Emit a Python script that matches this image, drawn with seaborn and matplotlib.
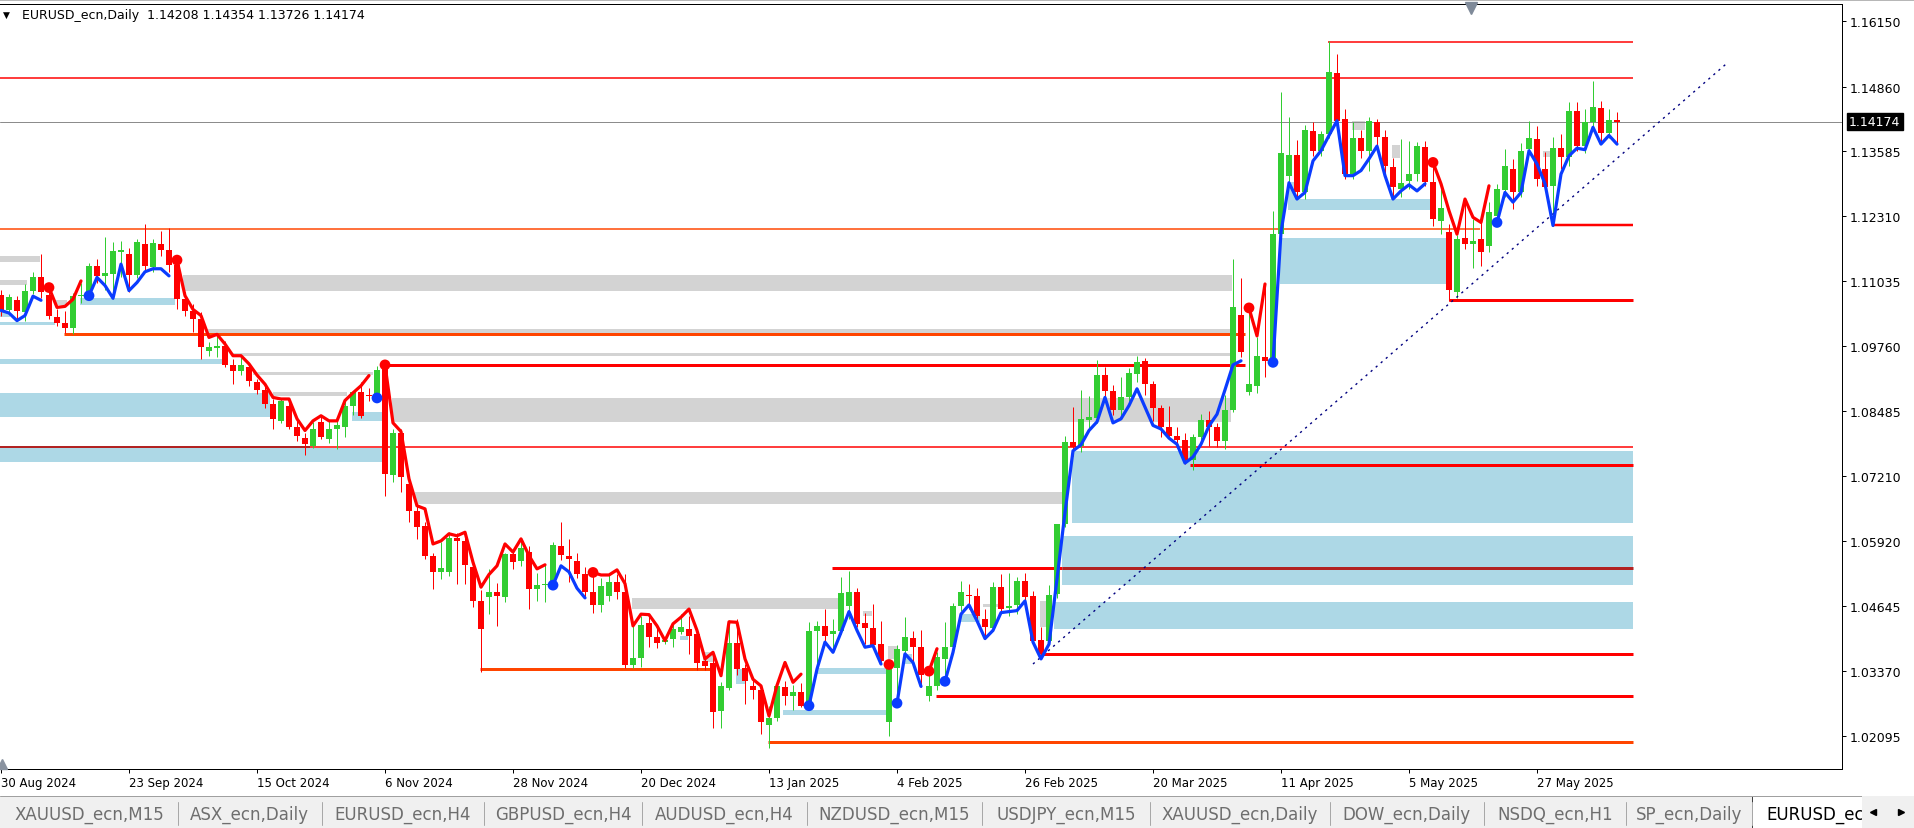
import numpy as np
import pandas as pd
import matplotlib
matplotlib.use("Agg")
import matplotlib.pyplot as plt
from matplotlib.patches import Rectangle
from matplotlib.lines import Line2D
import seaborn as sns

# ---------------- data ----------------
title_text = "EURUSD_ecn,Daily  1.14208 1.14354 1.13726 1.14174"

opens = [
1.1077,1.1046,1.1066,1.1043,1.1085,1.1112,1.1077,1.1033,1.1021,1.1011,
1.1074,1.1076,1.1133,1.1114,1.1117,1.1161,1.1157,1.1115,1.1177,1.1132,
1.1177,1.1165,1.1135,1.1068,1.1045,1.1030,1.0967,1.0972,1.0976,1.0938,
1.0926,1.0934,1.0906,1.0890,1.0862,1.0829,1.0858,1.0817,1.0795,1.0780,
1.0827,1.0793,1.0813,1.0817,1.0858,1.0886,1.0880,1.0878,1.0930,1.0723,
1.0805,1.0705,1.0652,1.0622,1.0563,1.0531,1.0531,1.0598,1.0593,1.0542,
1.0475,1.0483,1.0493,1.0483,1.0567,1.0553,1.0571,1.0498,1.0506,1.0506,
1.0582,1.0563,1.0554,1.0528,1.0493,1.0467,1.0485,1.0512,1.0493,1.0350,
1.0363,1.0432,1.0405,1.0394,1.0401,1.0414,1.0420,1.0410,1.0357,1.0353,
1.0258,1.0303,1.0392,1.0343,1.0308,1.0300,1.0231,1.0245,1.0306,1.0288,
1.0296,1.0269,1.0415,1.0426,1.0409,1.0416,1.0465,1.0493,1.0432,1.0422,
1.0391,1.0237,1.0343,1.0377,1.0402,1.0384,1.0289,1.0308,1.0361,1.0384,
1.0465,1.0487,1.0485,1.0440,1.0422,1.0503,1.0461,1.0467,1.0514,1.0485,
1.0398,1.0396,1.0488,1.0626,1.0788,1.0780,1.0830,1.0834,1.0919,1.0888,
1.0850,1.0876,1.0921,1.0947,1.0901,1.0854,1.0816,1.0800,1.0791,1.0753,
1.0798,1.0830,1.0817,1.0790,1.0851,1.1037,1.0886,1.0898,1.0955,1.0947,
1.1196,1.1311,1.1352,1.1279,1.1399,1.1360,1.1393,1.1513,1.1422,1.1314,
1.1385,1.1360,1.1416,1.1387,1.1328,1.1285,1.1300,1.1314,1.1367,1.1298,
1.1222,1.1200,1.1083,1.1189,1.1177,1.1187,1.1173,1.1232,1.1283,1.1325,
1.1279,1.1364,1.1384,1.1325,1.1291,1.1366,1.1348,1.1438,1.1369,1.1416,
1.1444,1.1395,1.14208]

highs = [
1.1087,1.1078,1.1075,1.1098,1.1122,1.1157,1.1091,1.1048,1.1045,1.1080,
1.1100,1.1140,1.1147,1.1190,1.1181,1.1183,1.1168,1.1187,1.1216,1.1186,
1.1202,1.1209,1.1145,1.1083,1.1058,1.1042,1.0984,1.0997,1.0985,1.0950,
1.0955,1.0940,1.0912,1.0897,1.0872,1.0872,1.0866,1.0830,1.0805,1.0827,
1.0839,1.0830,1.0832,1.0870,1.0888,1.0905,1.0893,1.0937,1.0939,1.0812,
1.0812,1.0722,1.0665,1.0630,1.0569,1.0591,1.0610,1.0609,1.0606,1.0552,
1.0497,1.0538,1.0510,1.0570,1.0573,1.0597,1.0583,1.0530,1.0545,1.0590,
1.0630,1.0597,1.0569,1.0541,1.0531,1.0520,1.0526,1.0528,1.0527,1.0426,
1.0446,1.0445,1.0425,1.0405,1.0430,1.0450,1.0446,1.0420,1.0362,1.0366,
1.0315,1.0437,1.0439,1.0351,1.0325,1.0310,1.0269,1.0313,1.0318,1.0310,
1.0313,1.0434,1.0436,1.0459,1.0439,1.0522,1.0534,1.0500,1.0451,1.0468,
1.0435,1.0350,1.0389,1.0443,1.0415,1.0417,1.0338,1.0375,1.0433,1.0470,
1.0515,1.0508,1.0500,1.0460,1.0513,1.0528,1.0530,1.0522,1.0530,1.0495,
1.0424,1.0506,1.0627,1.0800,1.0856,1.0890,1.0877,1.0949,1.0934,1.0899,
1.0916,1.0932,1.0956,1.0953,1.0907,1.0860,1.0858,1.0817,1.0805,1.0804,
1.0843,1.0848,1.0824,1.0880,1.1147,1.1110,1.1051,1.0993,1.1098,1.1242,
1.1475,1.1426,1.1381,1.1410,1.1416,1.1399,1.1575,1.1550,1.1442,1.1416,
1.1400,1.1426,1.1422,1.1401,1.1345,1.1383,1.1380,1.1378,1.1380,1.1337,
1.1285,1.1215,1.1195,1.1265,1.1226,1.1219,1.1260,1.1295,1.1363,1.1344,
1.1375,1.1419,1.1409,1.1357,1.1386,1.1393,1.1455,1.1455,1.1442,1.1498,
1.1458,1.1442,1.14354]

lows = [
1.1036,1.1040,1.1029,1.1026,1.1078,1.1070,1.1030,1.1015,1.1001,1.1000,
1.1060,1.1072,1.1100,1.1087,1.1069,1.1112,1.1083,1.1110,1.1125,1.1122,
1.1153,1.1121,1.1048,1.1035,1.1004,1.0951,1.0956,1.0955,1.0935,1.0901,
1.0920,1.0897,1.0882,1.0855,1.0812,1.0825,1.0812,1.0790,1.0761,1.0775,
1.0794,1.0785,1.0773,1.0797,1.0840,1.0834,1.0868,1.0874,1.0682,1.0708,
1.0689,1.0630,1.0597,1.0557,1.0498,1.0518,1.0524,1.0508,1.0508,1.0463,
1.0335,1.0449,1.0426,1.0473,1.0537,1.0544,1.0459,1.0474,1.0473,1.0505,
1.0555,1.0512,1.0520,1.0483,1.0452,1.0454,1.0475,1.0479,1.0343,1.0344,
1.0345,1.0384,1.0382,1.0390,1.0385,1.0410,1.0370,1.0340,1.0340,1.0225,
1.0226,1.0300,1.0330,1.0272,1.0282,1.0213,1.0186,1.0238,1.0270,1.0261,
1.0266,1.0265,1.0335,1.0394,1.0380,1.0410,1.0440,1.0423,1.0390,1.0380,
1.0355,1.0210,1.0276,1.0360,1.0350,1.0305,1.0279,1.0300,1.0317,1.0370,
1.0455,1.0460,1.0435,1.0401,1.0415,1.0455,1.0445,1.0450,1.0470,1.0390,
1.0363,1.0390,1.0480,1.0620,1.0760,1.0768,1.0810,1.0825,1.0866,1.0840,
1.0834,1.0860,1.0905,1.0880,1.0828,1.0797,1.0796,1.0776,1.0745,1.0733,
1.0783,1.0779,1.0777,1.0774,1.0846,1.0955,1.0879,1.0883,1.0915,1.0944,
1.1190,1.1299,1.1265,1.1265,1.1350,1.1350,1.1385,1.1410,1.1305,1.1305,
1.1345,1.1320,1.1370,1.1310,1.1265,1.1270,1.1285,1.1300,1.1290,1.1213,
1.1196,1.1065,1.1070,1.1167,1.1130,1.1134,1.1160,1.1219,1.1270,1.1245,
1.1270,1.1355,1.1290,1.1280,1.1213,1.1324,1.1330,1.1360,1.1355,1.1400,
1.1375,1.1385,1.13726]

closes = [
1.1047,1.1072,1.1044,1.1085,1.1112,1.1083,1.1035,1.1021,1.1011,1.1074,
1.1076,1.1133,1.1114,1.1120,1.1163,1.1164,1.1115,1.1180,1.1134,1.1179,
1.1165,1.1135,1.1068,1.1045,1.1030,1.0975,1.0975,1.0977,1.0939,1.0926,
1.0938,1.0907,1.0889,1.0862,1.0832,1.0868,1.0817,1.0799,1.0783,1.0812,
1.0798,1.0813,1.0820,1.0858,1.0886,1.0839,1.0877,1.0929,1.0725,1.0805,
1.0718,1.0652,1.0620,1.0563,1.0531,1.0540,1.0599,1.0593,1.0545,1.0475,
1.0420,1.0493,1.0485,1.0567,1.0552,1.0580,1.0498,1.0506,1.0508,1.0585,
1.0565,1.0558,1.0528,1.0493,1.0467,1.0504,1.0512,1.0493,1.0350,1.0362,
1.0428,1.0405,1.0392,1.0398,1.0420,1.0424,1.0406,1.0353,1.0348,1.0257,
1.0308,1.0392,1.0342,1.0317,1.0300,1.0237,1.0245,1.0308,1.0288,1.0296,
1.0269,1.0416,1.0426,1.0407,1.0415,1.0491,1.0493,1.0430,1.0422,1.0389,
1.0357,1.0342,1.0381,1.0404,1.0384,1.0329,1.0308,1.0364,1.0384,1.0465,
1.0493,1.0484,1.0446,1.0424,1.0503,1.0460,1.0465,1.0514,1.0483,1.0396,
1.0371,1.0486,1.0626,1.0788,1.0778,1.0833,1.0836,1.0919,1.0888,1.0850,
1.0876,1.0923,1.0945,1.0902,1.0854,1.0816,1.0800,1.0791,1.0753,1.0798,
1.0830,1.0817,1.0790,1.0851,1.1052,1.0964,1.0902,1.0956,1.0947,1.1196,
1.1356,1.1352,1.1279,1.1401,1.1360,1.1393,1.1515,1.1418,1.1314,1.1385,
1.1360,1.1418,1.1387,1.1330,1.1289,1.1297,1.1314,1.1369,1.1298,1.1226,
1.1247,1.1086,1.1187,1.1177,1.1183,1.1160,1.1240,1.1285,1.1330,1.1279,
1.1360,1.1385,1.1305,1.1289,1.1366,1.1348,1.1438,1.1369,1.1416,1.1446,
1.1395,1.1420,1.14174]

# trend indicator line (one value per bar) and the bars where it switches colour
trend_values = [
1.1046,1.1041,1.1026,1.1036,1.1074,1.1066,1.1091,1.1052,1.1054,1.1068,
1.1104,1.1075,1.1111,1.1095,1.1070,1.1137,1.1085,1.1101,1.1122,1.1128,
1.1128,1.1114,1.1145,1.1075,1.1048,1.1036,1.0993,1.0999,1.0980,1.0957,
1.0957,1.0941,1.0919,1.0901,1.0875,1.0872,1.0872,1.0833,1.0810,1.0829,
1.0839,1.0829,1.0829,1.0869,1.0884,1.0898,1.0918,1.0874,1.0939,1.0825,
1.0808,1.0715,1.0662,1.0656,1.0587,1.0593,1.0607,1.0603,1.0610,1.0551,
1.0502,1.0527,1.0544,1.0587,1.0571,1.0597,1.0564,1.0538,1.0546,1.0506,
1.0544,1.0532,1.0500,1.0481,1.0531,1.0526,1.0526,1.0536,1.0509,1.0426,
1.0449,1.0448,1.0426,1.0397,1.0430,1.0443,1.0459,1.0417,1.0361,1.0374,
1.0328,1.0434,1.0433,1.0361,1.0321,1.0308,1.0249,1.0309,1.0354,1.0315,
1.0331,1.0269,1.0341,1.0394,1.0374,1.0413,1.0454,1.0417,1.0384,1.0387,
1.0351,1.0350,1.0274,1.0371,1.0354,1.0307,1.0337,1.0381,1.0317,1.0374,
1.0449,1.0467,1.0436,1.0401,1.0417,1.0452,1.0454,1.0456,1.0475,1.0394,
1.0361,1.0390,1.0518,1.0649,1.0770,1.0782,1.0810,1.0827,1.0875,1.0825,
1.0833,1.0859,1.0892,1.0856,1.0820,1.0813,1.0795,1.0783,1.0746,1.0758,
1.0783,1.0819,1.0842,1.0890,1.0939,1.0947,1.1051,1.0996,1.1098,1.0944,
1.1200,1.1297,1.1265,1.1278,1.1340,1.1360,1.1390,1.1419,1.1311,1.1311,
1.1321,1.1344,1.1369,1.1311,1.1265,1.1281,1.1293,1.1281,1.1295,1.1337,
1.1295,1.1242,1.1196,1.1265,1.1229,1.1219,1.1291,1.1219,1.1278,1.1259,
1.1278,1.1360,1.1334,1.1295,1.1213,1.1314,1.1350,1.1365,1.1362,1.1406,
1.1373,1.1390,1.1373]
down_start_bars = [6, 22, 48, 74, 111, 116, 156, 179]
up_start_bars = [0, 11, 47, 69, 101, 112, 118, 159, 187]

# zones: (first bar, last bar, low price, high price)
gray_zones = [
(-0.2, 4.9, 1.1141, 1.1153), (-0.2, 3.25, 1.1096, 1.1106), (6.75, 8.25, 1.1057, 1.1067),
(22.75, 153.9, 1.1084, 1.1116), (25.75, 153.9, 1.1002, 1.1010), (29.0, 153.9, 1.0956, 1.0962),
(31.5, 46.5, 1.0919, 1.0925), (34.0, 43.25, 1.0878, 1.0886), (48.9, 153.75, 1.0827, 1.0874),
(51.75, 132.6, 1.0666, 1.0689), (78.9, 105.1, 1.0459, 1.0481), (107.75, 108.9, 1.0445, 1.0455),
(110.9, 112.0, 1.0361, 1.0386), (122.75, 124.9, 1.0463, 1.0469), (129.9, 130.75, 1.0424, 1.0475),
(168.9, 170.5, 1.1401, 1.1418), (173.9, 174.9, 1.1346, 1.1371), (192.75, 193.6, 1.1348, 1.1359),
(87.75, 89.0, 1.0355, 1.0375)]
blue_zones = [
(-0.2, 1.1, 1.1033, 1.1043), (-0.2, 6.75, 1.1017, 1.1023), (9.9, 21.75, 1.1057, 1.1071),
(-0.2, 27.6, 1.0941, 1.0951), (-0.2, 33.6, 1.0837, 1.0884), (-0.2, 47.6, 1.0748, 1.0776),
(43.9, 47.6, 1.0829, 1.0846), (102.0, 110.75, 1.0331, 1.0343), (97.75, 110.75, 1.0251, 1.0261),
(84.9, 85.9, 1.0398, 1.0406), (91.9, 93.0, 1.0312, 1.0341), (119.9, 122.4, 1.0434, 1.0449),
(112.75, 113.9, 1.0351, 1.0371), (133.9, 204.0, 1.0628, 1.0770), (132.6, 204.0, 1.0506, 1.0603),
(131.6, 204.0, 1.0420, 1.0473), (160.9, 178.6, 1.1244, 1.1265), (159.9, 180.75, 1.1098, 1.1188),
(160.9, 161.9, 1.1265, 1.1299)]

# horizontal levels: (price, first bar, last bar)
level_lines = [
(1.1574, 165.9, 204.0), (1.1502, -0.2, 204.0), (1.1214, 193.9, 204.0), (1.1207, -0.2, 184.9),
(1.1066, 181.0, 204.0), (1.0999, 7.9, 155.5), (1.0939, 47.6, 155.5), (1.0778, -0.2, 204.0),
(1.0778, -0.2, 38.6), (1.0742, 148.6, 204.0), (1.0539, 103.9, 132.6), (1.0539, 132.6, 204.0),
(1.0370, 129.9, 204.0), (1.0341, 59.9, 89.0), (1.0288, 116.9, 204.0), (1.0197, 95.9, 204.0)]
level_kinds = ["red_thin", "red_thin", "red_mid", "orange_thin",
               "red_thick", "orange_thick", "red_thick", "red_thin",
               "dark_mid", "red_thick", "red_thick", "dark_thick",
               "red_thick", "orange_thick", "red_thick", "orange_thick"]

trend_line_bars = [129.0, 215.75]
trend_line_prices = [1.0351, 1.1532]

price_ticks = [1.16150, 1.14860, 1.13585, 1.12310, 1.11035, 1.09760, 1.08485,
               1.07210, 1.05920, 1.04645, 1.03370, 1.02095]
date_tick_bars = [0, 16, 32, 48, 64, 80, 96, 112, 128, 144, 160, 176, 192]
date_tick_labels = ["30 Aug 2024", "23 Sep 2024", "15 Oct 2024", "6 Nov 2024", "28 Nov 2024",
                    "20 Dec 2024", "13 Jan 2025", "4 Feb 2025", "26 Feb 2025", "20 Mar 2025",
                    "11 Apr 2025", "5 May 2025", "27 May 2025"]
tab_labels = ["XAUUSD_ecn,M15", "ASX_ecn,Daily", "EURUSD_ecn,H4", "GBPUSD_ecn,H4",
              "AUDUSD_ecn,H4", "NZDUSD_ecn,M15", "USDJPY_ecn,M15", "XAUUSD_ecn,Daily",
              "DOW_ecn,Daily", "NSDQ_ecn,H1", "SP_ecn,Daily"]
active_tab_label = "EURUSD_ec"   # the visible part of the active tab

# ---------------- style ----------------
sns.set_style("white")
plt.rcParams['font.family'] = ['DejaVu Sans']

W, H = 1914, 829
fig = plt.figure(figsize=(W / 100, H / 100), dpi=100)
fig.patch.set_facecolor("white")

def fx(px):
    return px / W

def fy(py):
    return 1 - py / H

PX = 0.72  # points per pixel

ax = fig.add_axes([0, fy(770), fx(1842), (770 - 5) / H])
ax.set_facecolor("white")
ax.set_xlim(-0.125, 230.125)
ax.set_ylim(1.014460, 1.164842)

RED = "#FF0000"
GREEN = "#32CD32"
BLUE = "#0A3CFF"
ORANGE = "#FF4500"
DARK = "#B22222"

# zones
for b0, b1, lo, hi in gray_zones:
    ax.add_patch(Rectangle((b0, lo), b1 - b0, hi - lo, facecolor="#D3D3D3",
                           edgecolor="none", zorder=1))
for b0, b1, lo, hi in blue_zones:
    ax.add_patch(Rectangle((b0, lo), b1 - b0, hi - lo, facecolor="#ADD8E6",
                           edgecolor="none", zorder=1))

# horizontal levels
kind_style = {
    "red_thin": (RED, 1.5), "red_mid": (RED, 2.5), "red_thick": (RED, 3.0),
    "orange_thin": (ORANGE, 1.5), "orange_thick": (ORANGE, 3.0),
    "dark_mid": (DARK, 2.0), "dark_thick": (DARK, 3.0)}
for (p, b0, b1), kind in zip(level_lines, level_kinds):
    col, lw = kind_style[kind]
    ax.hlines(p, b0, b1, colors=col, linewidth=lw * PX, zorder=2)

# current price line
last_close = closes[-1]
ax.axhline(last_close, color="#8C8C8C", linewidth=1.0 * PX, zorder=2)

# candles
bars = np.arange(len(closes))
o = np.array(opens); h = np.array(highs); l = np.array(lows); c = np.array(closes)
bull = c >= o
cols = np.where(bull, GREEN, RED)
top = np.maximum.reduce([h, o, c]); bot = np.minimum.reduce([l, o, c])
ax.vlines(bars, bot, top, colors=cols, linewidth=1.0 * PX, zorder=3)
body_lo = np.minimum(o, c)
body_h = np.maximum(np.abs(c - o), 1.3 / 5087)
ax.bar(bars, body_h, bottom=body_lo, width=0.64, color=cols, linewidth=0, zorder=3)

# trend indicator line (seaborn)
switch = {b: "down" for b in down_start_bars}
switch.update({b: "up" for b in up_start_bars})
dirs, segs = [], []
cur, seg = "up", -1
for i in range(len(trend_values)):
    if i in switch:
        cur = switch[i]
        seg += 1
    dirs.append(cur)
    segs.append(seg)
df_line = pd.DataFrame({"bar": bars, "value": trend_values, "dir": dirs, "seg": segs})
pal = {"down": RED, "up": BLUE}
sns.lineplot(data=df_line, x="bar", y="value", hue="dir", units="seg", estimator=None,
             palette=pal, linewidth=2.3, legend=False, sort=False, ax=ax, zorder=5)
dot_bars = sorted(b for b in switch if b != 0)
df_dots = df_line[df_line["bar"].isin(dot_bars)]
sns.scatterplot(data=df_dots, x="bar", y="value", hue="dir", palette=pal, s=60,
                linewidth=0, legend=False, ax=ax, zorder=6)

# dotted trend line
sns.lineplot(x=trend_line_bars, y=trend_line_prices, ax=ax, color="#000080",
             linewidth=1.0, linestyle=(0, (1.6, 3.2)), zorder=4)

ax.set_xlabel("")
ax.set_ylabel("")

# axes decoration
ax.spines["left"].set_visible(False)
for side in ["top", "right", "bottom"]:
    ax.spines[side].set_color("black")
    ax.spines[side].set_linewidth(1.0 * PX)

ax.yaxis.tick_right()
ax.set_yticks(price_ticks)
ax.set_yticklabels([f"{p:.5f}" for p in price_ticks])
ax.tick_params(axis="y", which="both", direction="out", length=4 * PX, width=1.0 * PX,
               pad=2.5, labelsize=9, colors="black", right=True, left=False)
ax.set_xticks(date_tick_bars)
ax.set_xticklabels(date_tick_labels)
ax.tick_params(axis="x", direction="out", length=4 * PX, width=1.0 * PX, pad=2.5,
               labelsize=8.5, colors="black", bottom=True, top=False)
for lbl in ax.get_xticklabels():
    lbl.set_ha("left")

# current price tag
ax.annotate(f"{last_close:.5f}", xy=(1, last_close), xycoords=ax.get_yaxis_transform(),
            xytext=(7, 0), textcoords="offset pixels", ha="left", va="center",
            fontsize=9, color="white", zorder=10, annotation_clip=False,
            bbox=dict(boxstyle="square,pad=0.18", fc="black", ec="black"))

# header
fig.text(fx(3), fy(15), "\u25BC", fontsize=6.5, va="center", ha="left", color="black")
fig.text(fx(22), fy(16), title_text, fontsize=9.0, va="center", ha="left", color="black")
fig.add_artist(Line2D([0, 1], [fy(1), fy(1)], transform=fig.transFigure, color="#A0A0A0",
                      linewidth=1.5 * PX))
fig.add_artist(Line2D([fx(1471)], [fy(9)], transform=fig.transFigure, marker="v",
                      markersize=8, color="#7F8A99", linestyle="none"))
fig.add_artist(Line2D([fx(2)], [fy(765)], transform=fig.transFigure, marker="^",
                      markersize=7, color="#8A93A0", linestyle="none"))

# tab bar
fig.add_artist(Rectangle((0, 0), 1, (829 - 797) / H, transform=fig.transFigure,
                         facecolor="#F0F0F0", edgecolor="none", zorder=0))
fig.add_artist(Line2D([0, 1], [fy(797), fy(797)], transform=fig.transFigure,
                      color="#A0A0A0", linewidth=1.0 * PX))
tab_edges = [0, 178, 321.5, 484, 642, 807, 982, 1150, 1330, 1483.5, 1626, 1752]
for e in tab_edges[1:]:
    fig.add_artist(Line2D([fx(e), fx(e)], [fy(803), fy(826)], transform=fig.transFigure,
                          color="#A8A8A8", linewidth=1.0 * PX))
for k, lab in enumerate(tab_labels):
    cx = (tab_edges[k] + tab_edges[k + 1]) / 2
    fig.text(fx(cx), fy(815), lab, fontsize=12, ha="center", va="center", color="#6E6E6E")
fig.add_artist(Rectangle((fx(1752), 0), fx(1862 - 1752), (829 - 797) / H,
                         transform=fig.transFigure, facecolor="white",
                         edgecolor="#404040", linewidth=1.0 * PX, zorder=1))
fig.text(fx(1766), fy(815), active_tab_label, fontsize=12, ha="left", va="center",
         color="black", zorder=2)
fig.add_artist(Rectangle((fx(1862), 0), fx(52), (829 - 797) / H, transform=fig.transFigure,
                         facecolor="#F0F0F0", edgecolor="none", zorder=3))
fig.add_artist(Line2D([fx(1873)], [fy(813)], transform=fig.transFigure, marker="<",
                      markersize=5, color="black", linestyle="none", zorder=4))
fig.add_artist(Line2D([fx(1901)], [fy(813)], transform=fig.transFigure, marker=">",
                      markersize=5, color="black", linestyle="none", zorder=4))

fig.savefig("out.png", dpi=100, facecolor="white")
